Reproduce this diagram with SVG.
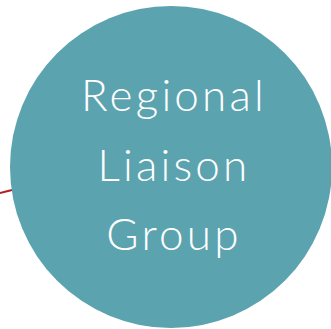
<svg xmlns="http://www.w3.org/2000/svg" width="331" height="329" viewBox="0 0 331 329">
<style>
.lbl{font-family:Lato,"Open Sans","Liberation Sans",sans-serif;font-weight:300;font-size:44px;letter-spacing:3.2px;fill:#ffffff;text-anchor:middle}
</style>
<rect width="331" height="329" fill="#ffffff"/>
<g id="connectors">
<line x1="0" y1="193" x2="12" y2="190" stroke="#b21f24" stroke-width="2"/>
</g>
<g id="regional-liaison-group">
<circle cx="171" cy="167" r="161" fill="#5ba3af"/>
<text class="lbl" x="174" y="111">Regional</text>
<text class="lbl" x="174" y="181">Liaison</text>
<text class="lbl" x="174" y="250">Group</text>
</g>
</svg>
